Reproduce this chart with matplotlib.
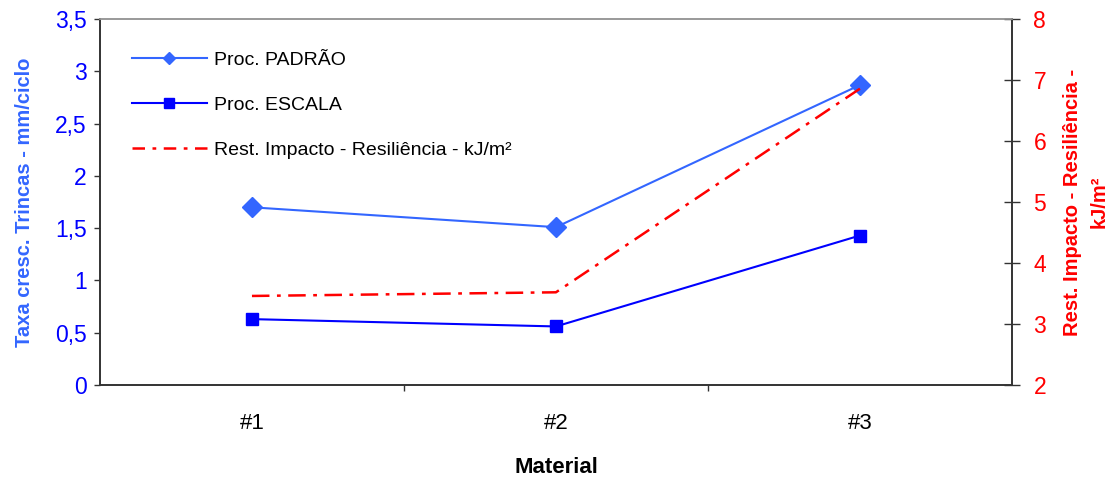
import matplotlib
matplotlib.use('Agg')
import matplotlib.pyplot as plt
from matplotlib.lines import Line2D
import numpy as np

plt.rcParams['font.family'] = ['Liberation Sans', 'DejaVu Sans']

# Data
materials = ['#1', '#2', '#3']
padrao = [1.70, 1.51, 2.87]
escala = [0.63, 0.56, 1.43]
resiliencia = [3.46, 3.52, 6.86]

left_ticks = [0, 0.5, 1, 1.5, 2, 2.5, 3, 3.5]
left_labels = ['0', '0,5', '1', '1,5', '2', '2,5', '3', '3,5']
right_ticks = [2, 3, 4, 5, 6, 7, 8]

c_padrao = '#3366FF'
c_escala = '#0000FF'
c_res = '#FF0000'

fig = plt.figure(figsize=(11.12, 4.8), dpi=100)
ax = fig.add_axes([0.0899, 0.198, 0.8201, 0.762])
ax2 = ax.twinx()

x = np.arange(len(materials))

ax.plot(x, padrao, color=c_padrao, lw=1.5, marker='D', markersize=10)
ax.plot(x, escala, color=c_escala, lw=1.5, marker='s', markersize=8)
ax2.plot(x, resiliencia, color=c_res, lw=1.8, dashes=(7, 3, 1.5, 3))

ax.set_xlim(-0.5, 2.5)
ax.set_ylim(0, 3.5)
ax2.set_ylim(2, 8)

ax.set_yticks(left_ticks)
ax.set_yticklabels(left_labels)
ax.tick_params(axis='y', colors=c_escala, labelsize=16.5, direction='out', length=4.5, width=1, pad=5)
ax.tick_params(axis='y', color='#333333')
ax2.set_yticks(right_ticks)
ax2.tick_params(axis='y', labelcolor=c_res, labelsize=16.5, direction='inout', length=12,
                width=1, color='#333333', pad=9.5)

# category boundary ticks on x axis, labels centred on categories
ax.set_xticks([0.5, 1.5])
ax.set_xticklabels([])
ax.tick_params(axis='x', direction='out', length=4.5, width=1, color='#333333')
ax.set_xticks(x, minor=True)
ax.set_xticklabels(materials, minor=True)
ax.tick_params(axis='x', which='minor', length=0, labelsize=16, pad=20)

for a in (ax, ax2):
    a.spines['top'].set_color('#999999')
    for side in ('bottom', 'left', 'right'):
        a.spines[side].set_color('#333333')
    for s in a.spines.values():
        s.set_linewidth(1.2)

ax.set_xlabel('Material', fontsize=16, fontweight='bold', labelpad=17)
ax.set_ylabel('Taxa cresc. Trincas - mm/ciclo', fontsize=14.5, fontweight='bold',
              color=c_padrao, labelpad=15)
ax2.set_ylabel('Rest. Impacto - Resiliência -\nkJ/m²', fontsize=14.5, fontweight='bold',
               color=c_res, labelpad=12, linespacing=1.5)

handles = [
    Line2D([], [], color=c_padrao, lw=1.5, marker='D', markersize=6),
    Line2D([], [], color=c_escala, lw=1.5, marker='s', markersize=7),
    Line2D([], [], color=c_res, lw=1.8, dashes=(5, 3, 1.5, 3)),
]
labels = ['Proc. PADRÃO', 'Proc. ESCALA', 'Rest. Impacto - Resiliência - kJ/m²']
ax.legend(handles, labels, loc='upper left', frameon=False, fontsize=14,
          handlelength=3.85, handletextpad=0.36, labelspacing=1.4,
          bbox_to_anchor=(0.016, 0.96))

fig.savefig('out.png', dpi=100)
